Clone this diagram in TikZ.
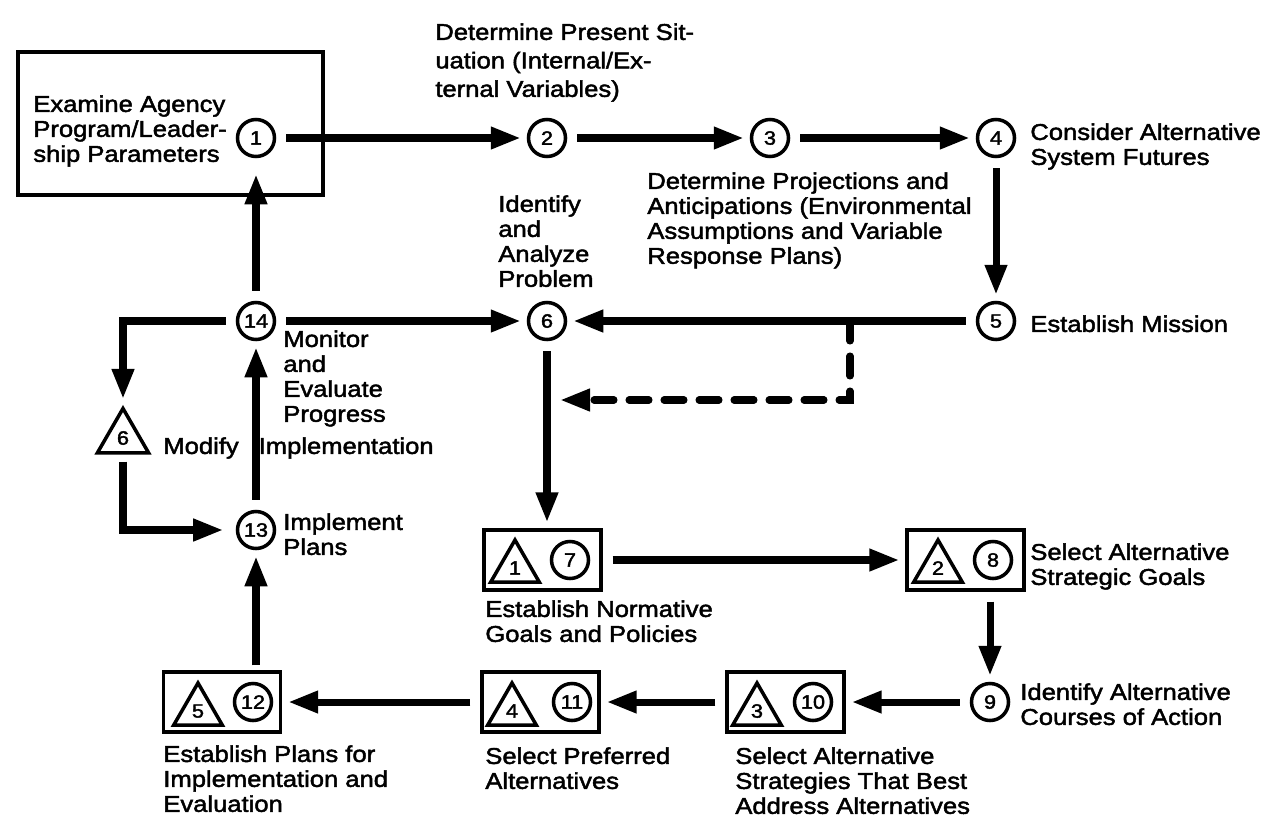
\documentclass[tikz,border=0pt]{standalone}
\usepackage{fontspec}
\setmainfont{Liberation Sans}[FakeStretch=1.12,
    BoldFont={Liberation Sans}, BoldFeatures={FakeBold=2}]
\usetikzlibrary{arrows.meta,shapes.geometric}

\begin{document}
\begin{tikzpicture}[
        every node/.style={font=\fontsize{13}{14.2}\selectfont\bfseries},
        numcirc/.style={circle, draw, line width=2pt,
            minimum size=0.74cm, inner sep=0pt,
            font=\fontsize{11}{11}\selectfont\bfseries},
        numtri/.style={regular polygon, regular polygon sides=3, draw,
            line width=2pt, minimum size=1.12cm, inner sep=0pt,
            font=\fontsize{11}{11}\selectfont\bfseries},
        pairbox/.style={rectangle, draw, line width=1.9pt,
            minimum width=2.34cm, minimum height=1.2cm},
        startbox/.style={rectangle, draw, line width=1.8pt,
            minimum width=6.1cm, minimum height=2.86cm},
        lbltext/.style={align=left, inner sep=0pt, anchor=north west},
        arrow/.style={-{Triangle[length=0.6cm, width=0.42cm]},
            line width=4pt, shorten <=0.2cm, shorten >=0.12cm},
        dasharrow/.style={arrow, shorten <=0pt,
            dash pattern=on 0.4cm off 0.3cm, line cap=round}
      ]
      \useasboundingbox (0,0) rectangle (25.38,-16.36);

      \node[startbox] (b1) at (3.41,-2.47) {};
      \node[numcirc] (c1) at (5.12,-2.76) {1};
      \node[numcirc] (c2) at (10.94,-2.76) {2};
      \node[numcirc] (c3) at (15.40,-2.76) {3};
      \node[numcirc] (c4) at (19.92,-2.76) {4};
      \node[numcirc] (c5) at (19.92,-6.42) {5};
      \node[numcirc] (c6) at (10.94,-6.42) {6};
      \node[numcirc] (c14) at (5.12,-6.42) {14};
      \node[numcirc] (c13) at (5.12,-10.60) {13};
      \node[numtri, minimum size=1.18cm] (t6) at (2.46,-8.76) {6};

      \node[pairbox] (b7) at (10.85,-11.20) {};
      \node[numtri] (t1) at (10.30,-11.36) {1};
      \node[numcirc] (c7) at (11.40,-11.20) {7};
      \node[pairbox] (b8) at (19.31,-11.20) {};
      \node[numtri] (t2) at (18.76,-11.36) {2};
      \node[numcirc] (c8) at (19.86,-11.20) {8};
      \node[numcirc] (c9) at (19.80,-14.04) {9};
      \node[pairbox] (b10) at (15.71,-14.04) {};
      \node[numtri] (t3) at (15.14,-14.22) {3};
      \node[numcirc] (c10) at (16.26,-14.04) {10};
      \node[pairbox] (b11) at (10.81,-14.04) {};
      \node[numtri] (t4) at (10.24,-14.22) {4};
      \node[numcirc] (c11) at (11.44,-14.04) {11};
      \node[pairbox] (b12) at (4.44,-14.04) {};
      \node[numtri] (t5) at (3.96,-14.22) {5};
      \node[numcirc] (c12) at (5.06,-14.04) {12};

      \coordinate (dj) at (17.0,-6.42);
      \coordinate (dk) at (11.08,-8.0);

      \node[lbltext] (l1) at (0.66,-1.90)
      {Examine Agency\\Program/Leader-\\ship Parameters};
      \node[lbltext] (l2) at (8.70,-0.46)
      {Determine Present Sit-\\[2pt]uation (Internal/Ex-\\[2pt]ternal Variables)};
      \node[lbltext] (l3) at (20.6,-2.46)
      {Consider Alternative\\System Futures};
      \node[lbltext] (l4) at (12.94,-3.44)
      {Determine Projections and\\Anticipations (Environmental\\Assumptions and Variable\\Response Plans)};
      \node[lbltext] (l5) at (9.96,-3.90)
      {Identify\\and\\Analyze\\Problem};
      \node[lbltext] (l6) at (20.6,-6.30) {Establish Mission};
      \node[lbltext] (l7) at (5.66,-6.60)
      {Monitor\\and\\Evaluate\\Progress};
      \node[lbltext] (l8) at (3.26,-8.74) {Modify\hspace{0.4cm}Implementation};
      \node[lbltext] (l9) at (5.66,-10.26) {Implement\\Plans};
      \node[lbltext] (l10) at (9.70,-12.00)
      {Establish Normative\\Goals and Policies};
      \node[lbltext] (l11) at (20.6,-10.86)
      {Select Alternative\\Strategic Goals};
      \node[lbltext] (l12) at (20.40,-13.66)
      {Identify Alternative\\Courses of Action};
      \node[lbltext] (l13) at (14.70,-14.94)
      {Select Alternative\\Strategies That Best\\Address Alternatives};
      \node[lbltext] (l14) at (9.70,-14.94)
      {Select Preferred\\Alternatives};
      \node[lbltext] (l15) at (3.26,-14.90)
      {Establish Plans for\\Implementation and\\Evaluation};

      \draw[arrow] (c1) -- (c2);
      \draw[arrow] (c2) -- (c3);
      \draw[arrow] (c3) -- (c4);
      \draw[arrow] (c4) -- (c5);
      \draw[arrow] (c5) -- (c6);
      \draw[dasharrow] (dj) |- (dk);
      \draw[arrow] (c14) -- (c6);
      \draw[arrow, shorten >=0.32cm] (c14) -- (c1);
      \draw[arrow] (c14) -| (t6);
      \draw[arrow, shorten <=0.14cm, shorten >=0.25cm] (t6) |- (c13);
      \draw[arrow] (c13) -- (c14);
      \draw[arrow] (c6) -- (c6 |- b7.north);
      \draw[arrow] (b7) -- (b8);
      \draw[arrow] (c9 |- b8.south) -- (c9);
      \draw[arrow] (c9) -- (b10);
      \draw[arrow] (b10) -- (b11);
      \draw[arrow] (b11) -- (b12);
      \draw[arrow, shorten <=0.1cm] (c13 |- b12.north) -- (c13);
    \end{tikzpicture}
\end{document}
